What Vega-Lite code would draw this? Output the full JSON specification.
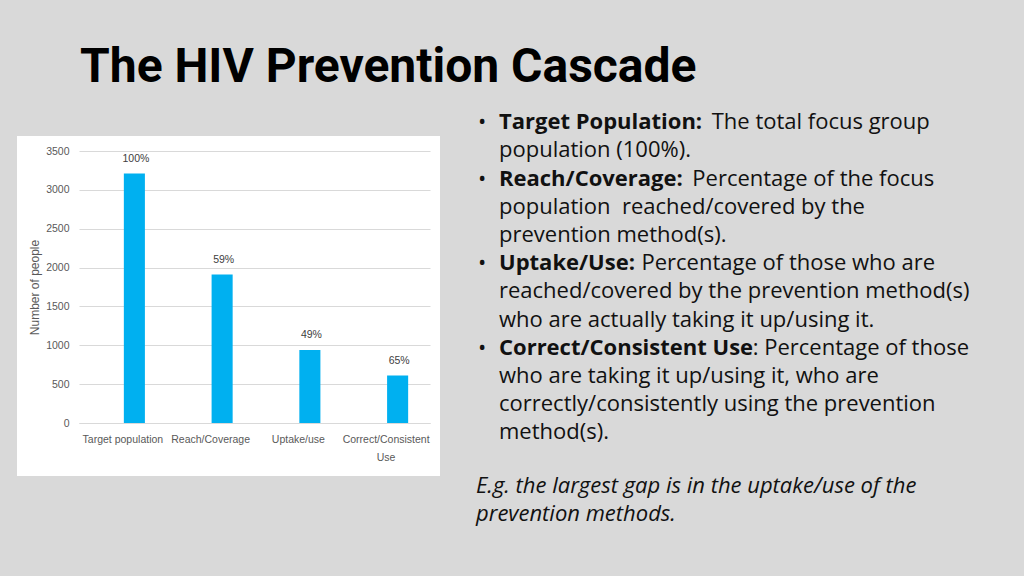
{
  "$schema": "https://vega.github.io/schema/vega-lite/v6.json",
  "background": "#d9d9d9",
  "padding": {"left": 17, "top": 44, "right": 0, "bottom": 0},
  "autosize": {"type": "pad"},
  "bounds": "flush",
  "spacing": 59,
  "title": {
    "text": "The HIV Prevention Cascade",
    "anchor": "start",
    "font": "Roboto",
    "fontSize": 48,
    "fontWeight": "bold",
    "color": "#000000",
    "dx": 63,
    "offset": 19
  },
  "datasets": {
    "cascade": [
      {"stage": "Target population", "people": 3210, "pct": "100%"},
      {"stage": "Reach/Coverage", "people": 1910, "pct": "59%"},
      {"stage": "Uptake/use", "people": 940, "pct": "49%"},
      {"stage": "Correct/Consistent Use", "people": 610, "pct": "65%"}
    ],
    "notes": [
      {"line": 1, "kind": "head", "text": "Target Population:"},
      {"line": 1, "kind": "rest", "text": "The total focus group"},
      {"line": 2, "kind": "body", "text": "population (100%)."},
      {"line": 3, "kind": "head", "text": "Reach/Coverage:"},
      {"line": 3, "kind": "rest", "text": "Percentage of the focus"},
      {"line": 4, "kind": "body", "text": "population\u00a0 reached/covered by the"},
      {"line": 5, "kind": "body", "text": "prevention method(s)."},
      {"line": 6, "kind": "head", "text": "Uptake/Use:"},
      {"line": 6, "kind": "rest", "text": "Percentage of those who are"},
      {"line": 7, "kind": "body", "text": "reached/covered by the prevention method(s)"},
      {"line": 8, "kind": "body", "text": "who are actually taking it up/using it."},
      {"line": 9, "kind": "head", "text": "Correct/Consistent Use"},
      {"line": 9, "kind": "rest", "text": ": Percentage of those"},
      {"line": 10, "kind": "body", "text": "who are taking it up/using it, who are"},
      {"line": 11, "kind": "body", "text": "correctly/consistently using the prevention"},
      {"line": 12, "kind": "body", "text": "method(s)."},
      {"line": 14, "kind": "note", "text": "E.g. the largest gap is in the uptake/use of the"},
      {"line": 15, "kind": "note", "text": "prevention methods."}
    ]
  },
  "config": {
    "view": {"stroke": null}
  },
  "hconcat": [
    {
      "width": 423,
      "height": 340,
      "view": {"fill": "#ffffff", "stroke": null},
      "data": {"name": "cascade"},
      "encoding": {
        "x": {
          "field": "stage",
          "type": "nominal",
          "sort": null,
          "scale": {"range": [62, 413], "paddingInner": 0, "paddingOuter": 0},
          "axis": {
            "title": null,
            "orient": "bottom",
            "offset": -53,
            "domain": true,
            "domainColor": "#d9d9d9",
            "domainWidth": 1,
            "ticks": false,
            "tickSize": 0,
            "labelAngle": 0,
            "labelPadding": 16,
            "labelFont": "Liberation Sans",
            "labelFontSize": 10.5,
            "labelColor": "#595959",
            "labelLineHeight": 18,
            "labelBaseline": "middle",
            "labelExpr": "datum.label == 'Correct/Consistent Use' ? ['Correct/Consistent', 'Use'] : datum.label"
          }
        },
        "y": {
          "field": "people",
          "type": "quantitative",
          "scale": {"domain": [0, 3500], "range": [287, 15], "nice": false, "zero": true},
          "axis": {
            "title": "Number of people",
            "values": [0, 500, 1000, 1500, 2000, 2500, 3000, 3500],
            "format": "d",
            "offset": -62,
            "domain": false,
            "ticks": false,
            "tickSize": 0,
            "grid": true,
            "gridColor": "#d9d9d9",
            "gridWidth": 1,
            "labelPadding": 10,
            "labelFont": "Liberation Sans",
            "labelFontSize": 10.5,
            "labelColor": "#595959",
            "titleFont": "Liberation Sans",
            "titleFontSize": 12,
            "titleFontWeight": "normal",
            "titleColor": "#595959",
            "titlePadding": 4
          }
        }
      },
      "layer": [
        {
          "mark": {"type": "bar", "color": "#00b0f0", "width": {"band": 0.24}, "xOffset": 11.5}
        },
        {
          "mark": {
            "type": "text",
            "xOffset": 13,
            "dy": -14.5,
            "baseline": "middle",
            "font": "Liberation Sans",
            "fontSize": 10.5,
            "color": "#404040"
          },
          "encoding": {"text": {"field": "pct", "type": "nominal"}}
        }
      ]
    },
    {
      "width": 525,
      "height": 441,
      "data": {"name": "notes"},
      "encoding": {
        "x": {"value": 0},
        "y": {
          "field": "line",
          "type": "quantitative",
          "scale": {"domain": [1.2376, 16.876], "reverse": true, "nice": false, "zero": false},
          "axis": null
        }
      },
      "layer": [
        {
          "transform": [{"filter": "datum.kind == 'head'"}],
          "mark": {"type": "text", "text": "•", "align": "left", "baseline": "alphabetic", "dx": -21, "font": "Open Sans", "fontSize": 22, "color": "#111111"}
        },
        {
          "transform": [{"filter": "datum.kind == 'head'"}],
          "mark": {"type": "text", "align": "left", "baseline": "alphabetic", "font": "Open Sans", "fontSize": 22, "fontWeight": "bold", "color": "#111111"},
          "encoding": {"text": {"field": "text", "type": "nominal"}}
        },
        {
          "transform": [{"filter": "datum.kind == 'body'"}],
          "mark": {"type": "text", "align": "left", "baseline": "alphabetic", "font": "Open Sans", "fontSize": 22, "color": "#111111"},
          "encoding": {"text": {"field": "text", "type": "nominal"}}
        },
        {
          "transform": [{"filter": "datum.kind == 'rest' && datum.line == 1"}],
          "mark": {"type": "text", "align": "left", "baseline": "alphabetic", "dx": 212.7, "font": "Open Sans", "fontSize": 22, "color": "#111111"},
          "encoding": {"text": {"field": "text", "type": "nominal"}}
        },
        {
          "transform": [{"filter": "datum.kind == 'rest' && datum.line == 3"}],
          "mark": {"type": "text", "align": "left", "baseline": "alphabetic", "dx": 193.3, "font": "Open Sans", "fontSize": 22, "color": "#111111"},
          "encoding": {"text": {"field": "text", "type": "nominal"}}
        },
        {
          "transform": [{"filter": "datum.kind == 'rest' && datum.line == 6"}],
          "mark": {"type": "text", "align": "left", "baseline": "alphabetic", "dx": 142.5, "font": "Open Sans", "fontSize": 22, "color": "#111111"},
          "encoding": {"text": {"field": "text", "type": "nominal"}}
        },
        {
          "transform": [{"filter": "datum.kind == 'rest' && datum.line == 9"}],
          "mark": {"type": "text", "align": "left", "baseline": "alphabetic", "dx": 253.7, "font": "Open Sans", "fontSize": 22, "color": "#111111"},
          "encoding": {"text": {"field": "text", "type": "nominal"}}
        },
        {
          "transform": [{"filter": "datum.kind == 'note'"}],
          "mark": {"type": "text", "align": "left", "baseline": "alphabetic", "dx": -23, "dy": -3.2, "font": "Open Sans", "fontSize": 22, "fontStyle": "italic", "color": "#111111"},
          "encoding": {"text": {"field": "text", "type": "nominal"}}
        }
      ]
    }
  ]
}
